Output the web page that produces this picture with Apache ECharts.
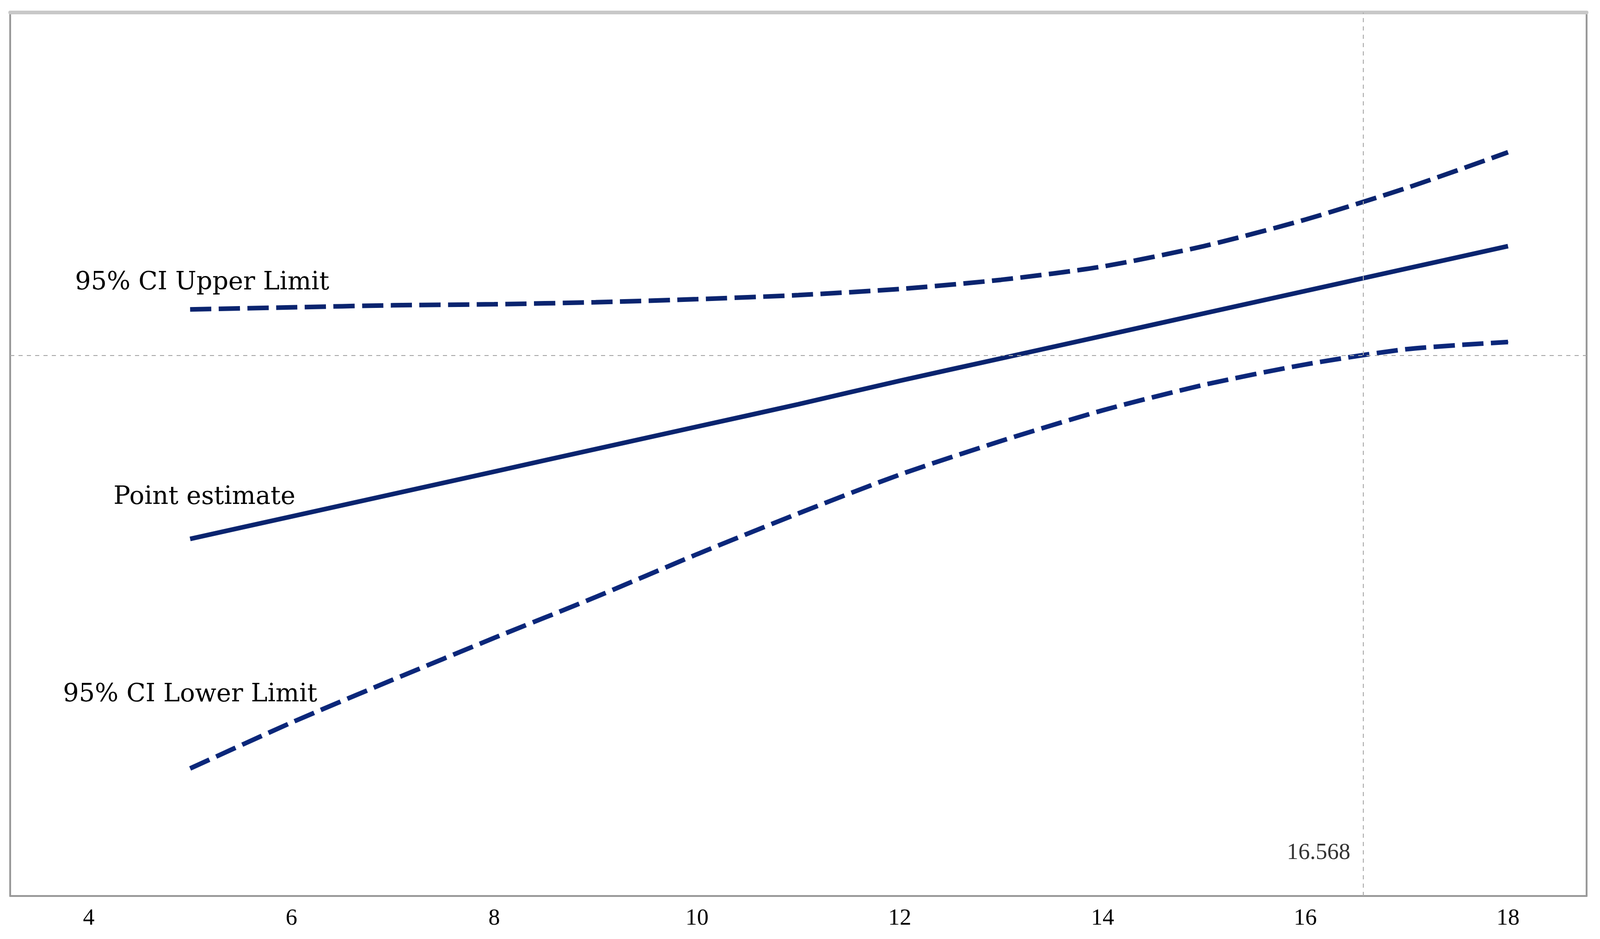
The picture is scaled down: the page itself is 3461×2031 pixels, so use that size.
<!DOCTYPE html>
<html>
<head>
<meta charset="utf-8">
<script src="https://cdn.jsdelivr.net/npm/echarts@6/dist/echarts.min.js"></script>
<style>
html,body{margin:0;padding:0;background:#fff;}
#c{width:3461px;height:2031px;}
</style>
</head>
<body>
<div id="c"></div>
<script>
// Moderator values (x)
var moderator = [5, 6, 7, 8, 9, 10, 11, 12, 13, 14, 15, 16, 17, 18];
// Conditional effect: point estimate and 95% CI limits
var pointEstimate = [-1.80, -1.58, -1.36, -1.14, -0.92, -0.70, -0.48, -0.25, -0.03, 0.19, 0.41, 0.63, 0.85, 1.07];
var upperLimit   = [0.45, 0.47, 0.49, 0.50, 0.52, 0.55, 0.59, 0.65, 0.74, 0.87, 1.07, 1.33, 1.64, 1.99];
var lowerLimit   = [-4.05, -3.60, -3.18, -2.77, -2.37, -1.95, -1.55, -1.17, -0.84, -0.54, -0.29, -0.09, 0.06, 0.13];
var xTickLabels = [4, 6, 8, 10, 12, 14, 16, 18];
var jnPoint = 16.568;
var zeroLine = 0;
var lineNames = ['95% CI Upper Limit', 'Point estimate', '95% CI Lower Limit'];

var X_MIN = 3.225, X_MAX = 18.775, Y_MIN = -5.30, Y_MAX = 3.36;
var NAVY = '#0A246F';
var SERIF = 'DejaVu Serif';
var TICKFONT = 'Liberation Sans Narrow, Liberation Serif';

function build(vals, labelText, offset) {
  return moderator.map(function (x, i) {
    if (i === 0) {
      return {
        value: [x, vals[i]],
        label: {
          show: true, formatter: labelText, position: 'inside', offset: offset,
          fontFamily: SERIF, fontSize: 54, color: '#000'
        }
      };
    }
    return [x, vals[i]];
  });
}

var chart = echarts.init(document.getElementById('c'));
chart.setOption({
  animation: false,
  backgroundColor: '#fff',
  grid: { left: 22, right: 29, top: 27, bottom: 93, containLabel: false },
  xAxis: [{
    type: 'value', min: X_MIN, max: X_MAX, position: 'bottom',
    axisLine: { show: true, onZero: false, lineStyle: { color: '#999999', width: 4 } },
    axisTick: { show: false },
    splitLine: { show: false },
    axisLabel: {
      customValues: xTickLabels, color: '#000', fontFamily: TICKFONT,
      fontSize: 50, margin: 24
    }
  }, {
    type: 'value', min: X_MIN, max: X_MAX, position: 'top',
    axisLine: { show: true, onZero: false, lineStyle: { color: '#c8c8c8', width: 8 } },
    axisTick: { show: false }, axisLabel: { show: false }, splitLine: { show: false }
  }],
  yAxis: [{
    type: 'value', min: Y_MIN, max: Y_MAX, position: 'left',
    axisLine: { show: true, onZero: false, lineStyle: { color: '#999999', width: 4 } },
    axisTick: { show: false }, axisLabel: { show: false }, splitLine: { show: false }
  }, {
    type: 'value', min: Y_MIN, max: Y_MAX, position: 'right',
    axisLine: { show: true, onZero: false, lineStyle: { color: '#999999', width: 4 } },
    axisTick: { show: false }, axisLabel: { show: false }, splitLine: { show: false }
  }],
  series: [
    {
      name: 'refLines', type: 'line', data: [], silent: true,
      markLine: {
        silent: true, symbol: 'none', label: { show: false },
        lineStyle: { color: '#aaaaaa', width: 2, type: [9, 9] },
        data: [{ yAxis: zeroLine }, { xAxis: jnPoint }]
      }
    },
    {
      name: lineNames[0], type: 'line', data: build(upperLimit, lineNames[0], [26, -57]),
      symbol: 'circle', symbolSize: 0, smooth: 0.25,
      lineStyle: { color: NAVY, width: 10, type: [46, 16] }, itemStyle: { color: NAVY }
    },
    {
      name: lineNames[1], type: 'line', data: build(pointEstimate, lineNames[1], [31, -90]),
      symbol: 'circle', symbolSize: 0, smooth: 0.25,
      lineStyle: { color: NAVY, width: 10, type: 'solid' }, itemStyle: { color: NAVY }
    },
    {
      name: lineNames[2], type: 'line', data: build(lowerLimit, lineNames[2], [0, -159]),
      symbol: 'circle', symbolSize: 0, smooth: 0.25,
      lineStyle: { color: NAVY, width: 10, type: [46, 16] }, itemStyle: { color: NAVY }
    },
    {
      name: 'jnLabel', type: 'scatter', symbolSize: 0, silent: true,
      data: [[jnPoint, Y_MIN]],
      label: {
        show: true, position: 'left', offset: [-22, -93], formatter: String(jnPoint),
        fontFamily: TICKFONT, fontSize: 50, color: '#000'
      }
    }
  ]
});
</script>
</body>
</html>
